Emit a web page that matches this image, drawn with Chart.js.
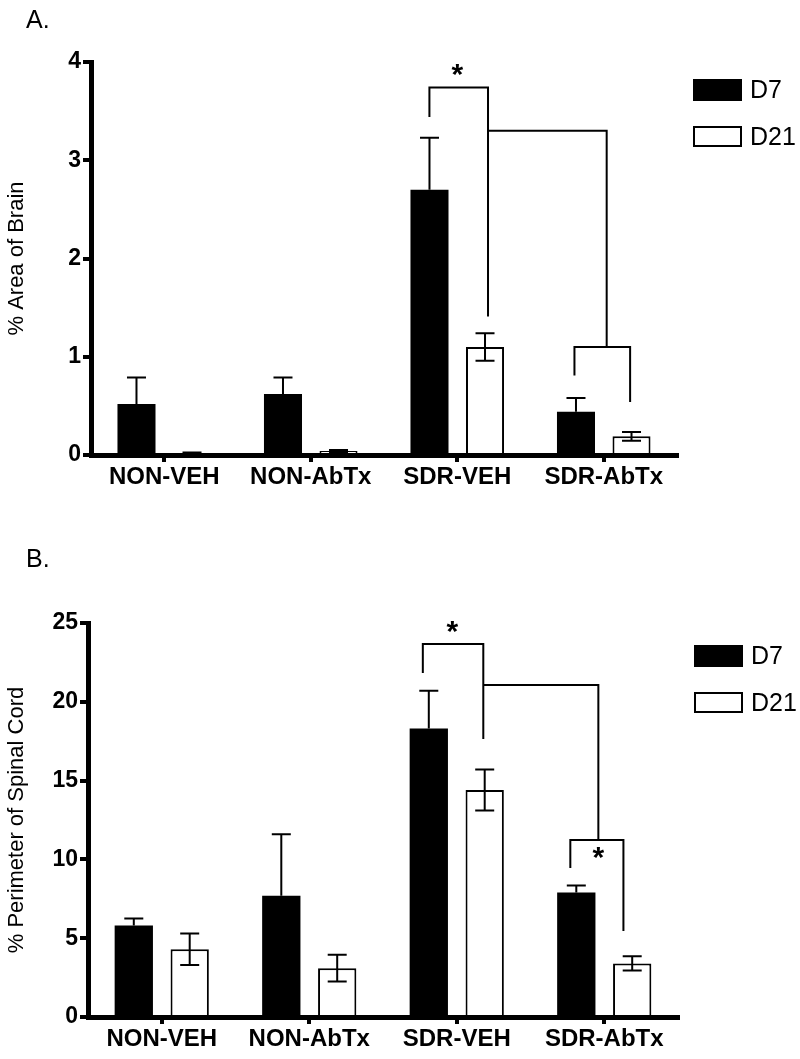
<!DOCTYPE html>
<html>
<head>
<meta charset="utf-8">
<script src="https://cdn.jsdelivr.net/npm/chart.js@4.4.0/dist/chart.umd.min.js"></script>
<style>
  body { margin: 0; background: #fff; }
  .panel { position: absolute; left: 0; width: 800px; }
  #panelA { top: 0; height: 500px; }
  #panelB { top: 530px; height: 529px; }
</style>
</head>
<body>
<div id="panelA" class="panel"><canvas id="chartA" width="800" height="500"></canvas></div>
<div id="panelB" class="panel"><canvas id="chartB" width="800" height="529"></canvas></div>
<script>
const groups = ["NON-VEH", "NON-AbTx", "SDR-VEH", "SDR-AbTx"];
const seriesNames = ["D7", "D21"];

// A. % area of brain (mean, sem)
const brainD7 = [0.52, 0.62, 2.70, 0.44];
const brainD7Sem = [0.27, 0.17, 0.53, 0.14];
const brainD21 = [0.02, 0.04, 1.10, 0.19];
const brainD21Sem = [0.005, 0.01, 0.14, 0.045];
const brainTicks = [0, 1, 2, 3, 4];

// B. % perimeter of spinal cord
const cordD7 = [5.8, 7.7, 18.3, 7.9];
const cordD7Sem = [0.45, 3.9, 2.4, 0.45];
const cordD21 = [4.3, 3.1, 14.4, 3.4];
const cordD21Sem = [1.0, 0.85, 1.3, 0.45];
const cordTicks = [0, 5, 10, 15, 20, 25];

// brackets: [x left, x right, y top, y left end, y right end]  (x in category units)
const brainBrackets = [[1.81, 2.21, 3.74, 3.44, 1.41], [2.80, 3.18, 1.10, 0.81, 0.54]];
const brainLinks = [[2.21, 3.02, 3.30, 1.10]]; // [x from, x to, y, y end]
const brainStars = [[2.0, 3.92]];

const cordBrackets = [[1.77, 2.18, 23.67, 21.83, 17.64], [2.77, 3.13, 11.23, 9.45, 5.46]];
const cordLinks = [[2.18, 2.96, 21.07, 11.23]];
const cordStars = [[1.97, 24.75], [2.96, 10.4]];

const FONT = "'Liberation Sans', Arial, Helvetica, sans-serif";

// error bars: D7 only upward, D21 both ways
const errorBars = {
  id: "errorBars",
  afterDatasetsDraw(chart) {
    const ctx = chart.ctx, ys = chart.scales.y;
    ctx.save();
    ctx.strokeStyle = "#000";
    ctx.lineWidth = 2;
    chart.data.datasets.forEach((ds, di) => {
      chart.getDatasetMeta(di).data.forEach((bar, i) => {
        const v = ds.data[i], e = ds.errors[i];
        const top = ys.getPixelForValue(v + e);
        const bot = ds.bothWays ? ys.getPixelForValue(v - e) : ys.getPixelForValue(v);
        ctx.beginPath();
        ctx.moveTo(bar.x, top); ctx.lineTo(bar.x, bot);
        ctx.moveTo(bar.x - 9.5, top); ctx.lineTo(bar.x + 9.5, top);
        if (ds.bothWays) { ctx.moveTo(bar.x - 9.5, bot); ctx.lineTo(bar.x + 9.5, bot); }
        ctx.stroke();
      });
    });
    ctx.restore();
  }
};

// brackets, stars, panel letter and side legend
const extras = {
  id: "extras",
  afterDraw(chart, args, opts) {
    const ctx = chart.ctx, xs = chart.scales.x, ys = chart.scales.y;
    const X = v => xs.getPixelForValue(v), Y = v => ys.getPixelForValue(v);
    ctx.save();
    ctx.strokeStyle = "#000";
    ctx.lineWidth = 2;
    opts.brackets.forEach(b => {
      ctx.beginPath();
      ctx.moveTo(X(b[0]), Y(b[3]));
      ctx.lineTo(X(b[0]), Y(b[2]));
      ctx.lineTo(X(b[1]), Y(b[2]));
      ctx.lineTo(X(b[1]), Y(b[4]));
      ctx.stroke();
    });
    opts.links.forEach(l => {
      ctx.beginPath();
      ctx.moveTo(X(l[0]), Y(l[2]));
      ctx.lineTo(X(l[1]), Y(l[2]));
      ctx.lineTo(X(l[1]), Y(l[3]));
      ctx.stroke();
    });
    ctx.fillStyle = "#000";
    ctx.font = "bold 30px " + FONT;
    ctx.textAlign = "center";
    ctx.textBaseline = "alphabetic";
    opts.stars.forEach(s => {
      const m = ctx.measureText("*");
      const base = Y(s[1]) + (m.actualBoundingBoxAscent - m.actualBoundingBoxDescent) / 2;
      ctx.fillText("*", X(s[0]), base);
    });

    // panel letter
    ctx.font = "25px " + FONT;
    ctx.textAlign = "left";
    ctx.fillText(opts.letter, 26, opts.letterY);

    // legend
    const lx = chart.chartArea.right + 16;
    let ly = chart.chartArea.top + opts.legendTop;
    ctx.textBaseline = "middle";
    chart.data.datasets.forEach((ds, di) => {
      if (di === 0) {
        ctx.fillStyle = "#000";
        ctx.fillRect(lx, ly, 49, 22);
      } else {
        ctx.fillStyle = "#fff";
        ctx.fillRect(lx, ly, 49, 21);
        ctx.strokeRect(lx + 1, ly + 1, 47, 19);
      }
      ctx.fillStyle = "#000";
      ctx.fillText(ds.label, lx + 57, ly + 12);
      ly += 47;
    });
    ctx.restore();
  }
};

function makeChart(id, d7, d7Err, d21, d21Err, ticks, title, layout, annot) {
  const step = ticks[1] - ticks[0];
  return new Chart(document.getElementById(id), {
    type: "bar",
    data: {
      labels: groups,
      datasets: [
        { label: seriesNames[0], data: d7, errors: d7Err, bothWays: false,
          backgroundColor: "#000", borderWidth: 0 },
        { label: seriesNames[1], data: d21, errors: d21Err, bothWays: true,
          backgroundColor: "#fff", borderColor: "#000", borderWidth: 2 }
      ]
    },
    options: {
      responsive: false,
      animation: false,
      categoryPercentage: 0.758,
      barPercentage: 0.685,
      layout: { padding: { top: layout.top, right: layout.right, left: 0, bottom: 0 } },
      plugins: {
        legend: { display: false },
        tooltip: { enabled: false },
        extras: annot
      },
      scales: {
        x: {
          afterFit: s => { s.height = layout.xh; },
          grid: { display: true, offset: false, drawOnChartArea: false, drawTicks: true,
                  tickLength: 7, lineWidth: 4, color: "#000" },
          border: { display: true, color: "#000", width: 5 },
          ticks: { color: "#000", padding: 1, font: { family: FONT, size: 24, weight: "bold" } }
        },
        y: {
          min: ticks[0],
          max: ticks[ticks.length - 1],
          afterFit: s => { s.width = layout.yw; },
          afterBuildTicks: s => { s.ticks = ticks.map(v => ({ value: v })); },
          grid: { display: true, drawOnChartArea: false, drawTicks: true,
                  tickLength: 8, lineWidth: 4, color: "#000" },
          border: { display: true, color: "#000", width: 5 },
          ticks: { color: "#000", padding: 2, stepSize: step,
                   font: { family: FONT, size: 23, weight: "bold" } },
          title: { display: true, text: title, color: "#000",
                   padding: { top: 4, bottom: 0 },
                   font: { family: FONT, size: 22, weight: "normal" } }
        }
      }
    },
    plugins: [errorBars, extras]
  });
}

makeChart("chartA", brainD7, brainD7Sem, brainD21, brainD21Sem, brainTicks,
  "% Area of Brain",
  { top: 62, right: 123, xh: 45, yw: 91 },
  { brackets: brainBrackets, links: brainLinks, stars: brainStars,
    letter: "A.", letterY: 28, legendTop: 17 });

makeChart("chartB", cordD7, cordD7Sem, cordD21, cordD21Sem, cordTicks,
  "% Perimeter of Spinal Cord",
  { top: 93, right: 122, xh: 42, yw: 88 },
  { brackets: cordBrackets, links: cordLinks, stars: cordStars,
    letter: "B.", letterY: 37, legendTop: 22 });
</script>
</body>
</html>
